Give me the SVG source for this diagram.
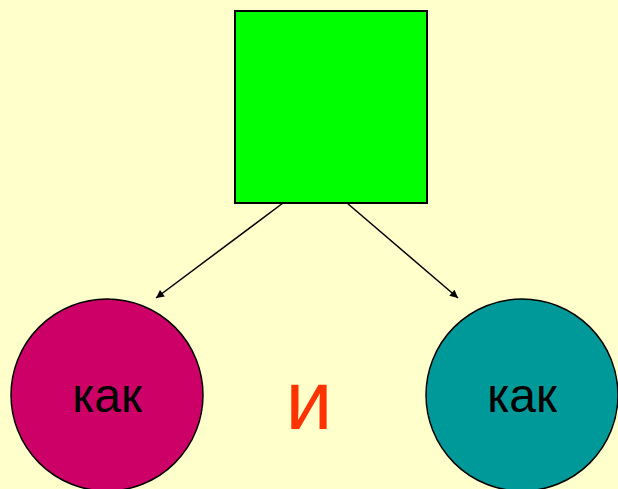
<svg xmlns="http://www.w3.org/2000/svg" width="618" height="489" viewBox="0 0 618 489">
<defs>
<style>
.lbl{font-family:"Liberation Sans",Arial,sans-serif;font-size:48px;fill:#000;text-anchor:middle}
.edge{stroke:#000;stroke-width:1.5;fill:none;marker-end:url(#ah)}
</style>
<marker id="ah" viewBox="0 0 10 10" refX="10" refY="5" markerWidth="11" markerHeight="8" markerUnits="userSpaceOnUse" orient="auto">
<path d="M0,0 L10,5 L0,10 z" fill="#000"/>
</marker>
</defs>
<rect width="618" height="489" fill="#FFFFCC"/>
<g id="square"><rect x="235" y="11" width="192" height="192" fill="#00FF00" stroke="#000" stroke-width="2"/></g>
<g id="connectors">
<line class="edge" x1="283" y1="203" x2="156" y2="298"/>
<line class="edge" x1="347" y1="203" x2="458" y2="298"/>
</g>
<g id="left"><circle cx="107" cy="395" r="96" fill="#CC0066" stroke="#000" stroke-width="1.5"/><text class="lbl" x="107" y="412">как</text></g>
<g id="right"><circle cx="522" cy="395" r="96" fill="#009999" stroke="#000" stroke-width="1.5"/><text class="lbl" x="522" y="412">как</text></g>
<g id="and"><text x="309" y="429" font-family="Liberation Sans,Arial,sans-serif" font-size="84" fill="#FF3300" text-anchor="middle">и</text></g>
</svg>
